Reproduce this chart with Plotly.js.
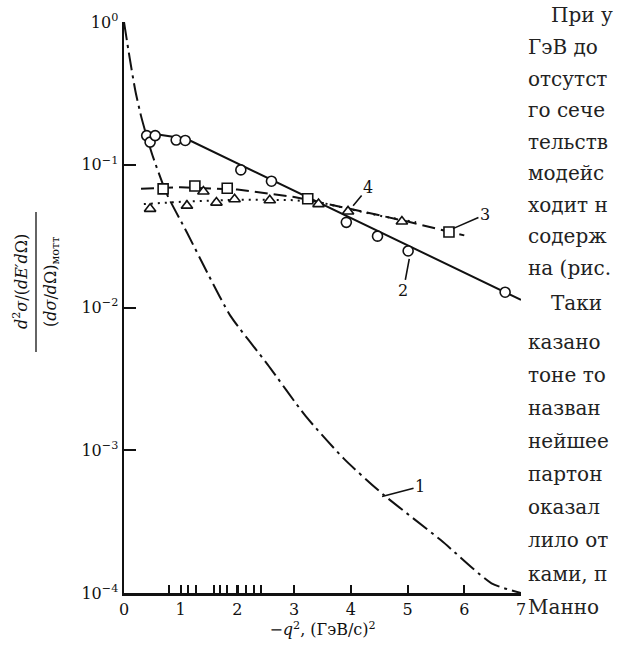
<!DOCTYPE html>
<html>
<head>
<meta charset="utf-8">
<script src="https://cdn.plot.ly/plotly-3.0.1.min.js"></script>
<style>
  html, body { margin: 0; padding: 0; background: #ffffff; }
  #chart { width: 623px; height: 647px; }
</style>
</head>
<body>
<div id="chart"></div>
<script>
// ---- data ----
// curve 1 (elastic, dash-dot)
const curve1X = [0, 0.1, 0.2, 0.3, 0.4, 0.5, 0.75, 1.11, 1.5, 1.88, 2.53, 3.2, 3.88, 4.57, 5.59, 6.48, 7.0];
const curve1Y = [1.0, 0.56, 0.33, 0.22, 0.158, 0.117, 0.063, 0.0335, 0.0166, 0.0087, 0.0040, 0.00174, 0.00087, 0.00049, 0.000234, 0.000117, 0.0001];
// series 2 (circles, solid line)
const circlesX = [0.40, 0.46, 0.55, 0.92, 1.08, 2.06, 2.60, 3.92, 4.47, 5.01, 6.72];
const circlesY = [0.160, 0.144, 0.160, 0.149, 0.148, 0.092, 0.0767, 0.0395, 0.0316, 0.0249, 0.0128];
const line2X = [0.36, 1.1, 7.0];
const line2Y = [0.168, 0.152, 0.0113];
// series 3 (squares, dashed line)
const squaresX = [0.69, 1.25, 1.82, 3.24, 5.73];
const squaresY = [0.0678, 0.071, 0.0685, 0.0578, 0.0338];
const line3X = [0.3, 1.0, 2.0, 3.0, 4.0, 5.0, 6.0];
const line3Y = [0.068, 0.0695, 0.067, 0.0595, 0.049, 0.040, 0.032];
// series 4 (triangles, dotted line)
const trianglesX = [0.46, 1.11, 1.40, 1.63, 1.95, 2.57, 3.43, 3.95, 4.90];
const trianglesY = [0.0491, 0.0517, 0.065, 0.0543, 0.0573, 0.0564, 0.053, 0.0471, 0.040];
const line4X = [0.35, 1.0, 2.0, 3.0, 3.5, 4.0, 4.5, 5.15];
const line4Y = [0.053, 0.055, 0.057, 0.0565, 0.054, 0.049, 0.044, 0.0395];
// short marks on the q^2 axis
const rugX = [0.80, 1.12, 1.27, 1.58, 1.70, 1.81, 2.01, 2.15, 2.29, 2.41];
// axis ticks
const xMajor = [0, 1, 2, 3, 4, 5, 6, 7];
const yTickVals = [1e-4, 1e-3, 1e-2, 1e-1, 1];
const yTickText = ['10<sup>−4</sup>', '10<sup>−3</sup>', '10<sup>−2</sup>', '10<sup>−1</sup>', '10<sup>0</sup>'];
// curve labels: [label, x, y(data), dx, dy]
const curveLabels = [
  ['1', 4.55, 4.74e-4, 38, -10],
  ['2', 5.03, 0.0219, -6, 32],
  ['3', 5.80, 0.0357, 32, -14],
  ['4', 4.04, 0.0516, 15, -18]
];
// book text to the right of the figure (visible part of each line)
const bookLines = ['При у', 'ГэВ до', 'отсутст', 'го сече', 'тельств', 'модейс', 'ходит н', 'содерж', 'на (рис.', 'Таки', 'казано', 'тоне то', 'назван', 'нейшее', 'партон', 'оказал', 'лило от', 'ками, п', 'Манно'];
const bookRowY = [15, 47, 79, 110, 142, 173, 205, 236, 268, 303, 342, 375, 408, 441, 474, 507, 540, 574, 607];
const bookIndent = [1, 0, 0, 0, 0, 0, 0, 0, 0, 1, 0, 0, 0, 0, 0, 0, 0, 0, 0];

// ---- layout helpers ----
const W = 623, H = 647, L = 124, R = 102, T = 22, B = 54;
const PW = W - L - R, PH = H - T - B;
const px = x => (x - L) / PW;
const py = y => (H - B - y) / PH;
const SERIF = 'DejaVu Serif, serif';

const xTickVals = xMajor.concat(rugX);
const xTickText = xMajor.map(String).concat(rugX.map(() => ''));

const traces = [
  {x: curve1X, y: curve1Y, mode: 'lines', line: {color: '#111', width: 2, dash: '18px,5px,3px,5px', shape: 'spline', smoothing: 0.6}},
  {x: line2X, y: line2Y, mode: 'lines', line: {color: '#111', width: 2}},
  {x: line3X, y: line3Y, mode: 'lines', line: {color: '#111', width: 2, dash: '13px,6px'}},
  {x: line4X, y: line4Y, mode: 'lines', line: {color: '#111', width: 2, dash: '2px,5px'}},
  {x: circlesX, y: circlesY, mode: 'markers', marker: {symbol: 'circle', size: 10, color: '#fff', line: {color: '#111', width: 1.6}}},
  {x: squaresX, y: squaresY, mode: 'markers', marker: {symbol: 'square', size: 10, color: '#fff', line: {color: '#111', width: 1.6}}},
  {x: trianglesX, y: trianglesY, mode: 'markers', marker: {symbol: 'triangle-up', size: 10, color: '#fff', line: {color: '#111', width: 1.6}}}
];

const annotations = [];
curveLabels.forEach(([t, x, y, dx, dy]) => {
  annotations.push({x: x, y: Math.log10(y), xref: 'x', yref: 'y', text: t, showarrow: true,
    arrowhead: 0, arrowwidth: 1.6, arrowcolor: '#111', ax: dx, ay: dy, standoff: 0,
    font: {family: SERIF, size: 16, color: '#111'}});
});
// y-axis title as a fraction
annotations.push({xref: 'paper', yref: 'paper', x: px(20), y: py(282), text: '<i>d</i><sup>2</sup><i>σ</i>/(<i>dE′d</i>Ω)',
  textangle: -90, showarrow: false, xanchor: 'center', yanchor: 'middle', font: {family: SERIF, size: 16, color: '#111'}});
annotations.push({xref: 'paper', yref: 'paper', x: px(51), y: py(282), text: '(<i>dσ</i>/<i>d</i>Ω)<sub>мотт</sub>',
  textangle: -90, showarrow: false, xanchor: 'center', yanchor: 'middle', font: {family: SERIF, size: 16, color: '#111'}});
// book text
bookLines.forEach((t, i) => {
  annotations.push({xref: 'paper', yref: 'paper', x: px(bookIndent[i] ? 549 : 526), y: py(bookRowY[i]), text: t,
    showarrow: false, xanchor: 'left', yanchor: 'middle', font: {family: SERIF, size: 20, color: '#222'}});
});

const layout = {
  width: W, height: H,
  margin: {l: L, r: R, t: T, b: B, pad: 0},
  paper_bgcolor: '#fff', plot_bgcolor: '#fff',
  showlegend: false,
  font: {family: SERIF, color: '#111'},
  xaxis: {range: [0, 7], showgrid: false, zeroline: false, showline: true, linecolor: '#111', linewidth: 2.5,
    ticks: 'inside', ticklen: 8, tickwidth: 2, tickcolor: '#111', tickvals: xTickVals, ticktext: xTickText,
    tickfont: {family: SERIF, size: 16, color: '#111'},
    title: {text: '−<i>q</i><sup>2</sup>, (ГэВ/c)<sup>2</sup>', font: {family: SERIF, size: 16, color: '#111'}, standoff: 4}},
  yaxis: {type: 'log', range: [-4, 0], showgrid: false, zeroline: false, showline: true, linecolor: '#111', linewidth: 2.5,
    ticks: 'inside', ticklen: 12, tickwidth: 2, tickcolor: '#111', tickvals: yTickVals, ticktext: yTickText,
    tickfont: {family: SERIF, size: 16, color: '#111'}},
  annotations: annotations,
  shapes: [{type: 'line', xref: 'paper', yref: 'paper', x0: px(36), x1: px(36), y0: py(212), y1: py(352), line: {color: '#111', width: 1.3}}]
};

Plotly.newPlot('chart', traces, layout, {staticPlot: true, displayModeBar: false});
</script>
</body>
</html>
